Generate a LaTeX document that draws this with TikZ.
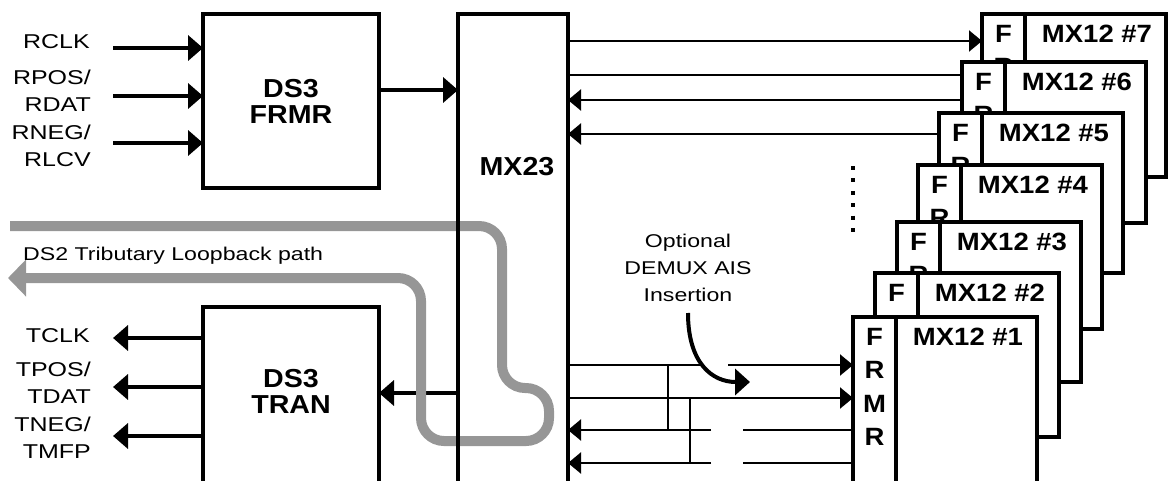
\documentclass[tikz,border=0pt]{standalone}
\usepackage{fontspec}
\setmainfont[FakeStretch=1.25]{Liberation Sans}
\newfontfamily\heavyfont[FakeStretch=1.1]{Liberation Sans Bold}
\usetikzlibrary{arrows.meta,backgrounds}
\definecolor{loopgray}{RGB}{150,150,150}

\begin{document}
\begin{tikzpicture}[x=1pt, y=-1pt,
  blk/.style={draw, line width=4pt, fill=white, anchor=north west,
    inner sep=0pt, outer sep=0pt},
  blklbl/.style={font=\fontsize{26}{26}\selectfont\heavyfont, align=center},
  mxlbl/.style={font=\fontsize{25}{33.5}\selectfont\heavyfont, align=center,
    anchor=north, inner sep=0pt},
  pin/.style={font=\fontsize{20}{27}\selectfont, align=right, anchor=east,
    inner sep=0pt},
  note/.style={font=\fontsize{18.5}{27}\selectfont, align=center, inner sep=0pt},
  bus/.style={line width=4.5pt, -{Triangle[length=15pt,width=25pt]}},
  sig/.style={line width=2.2pt},
  sigin/.style={sig, -{Triangle[length=13pt,width=21pt]}},
  loopback/.style={line width=10pt, loopgray, rounded corners=23pt,
    -{Triangle[length=18pt,width=36pt]}}]

\useasboundingbox (0,0) rectangle (1171,480);
\clip (0,0) rectangle (1171,480);

\def\fw{43}
\def\mw{184}

\node[blk, minimum width=176pt, minimum height=174pt, blklbl] (frmr) at (203,14) {DS3\\FRMR};
\node[blk, minimum width=176pt, minimum height=190pt] (tran) at (203,307) {};
\node[blklbl] (tranlbl) at (291,391) {DS3\\TRAN};
\node[blk, fill=none, minimum width=110pt, minimum height=480pt] (mx23) at (458,14) {};
\node[blklbl] (mx23lbl) at (517,167) {MX23};

\node[pin] (rclk) at (90,42) {RCLK};
\node[pin] (rpos) at (91,90.5) {RPOS/\\RDAT};
\node[pin] (rneg) at (91,146) {RNEG/\\RLCV};
\node[pin] (tclk) at (90,336) {TCLK};
\node[pin] (tpos) at (91,382.5) {TPOS/\\TDAT};
\node[pin] (tneg) at (91,437.5) {TNEG/\\TMFP};

\foreach \y/\nm in {48/rin1, 96/rin2, 143/rin3}{
  \coordinate (\nm) at (113,\y);
  \draw[bus] (\nm) -- (frmr.west |- \nm);
}
\foreach \y/\nm in {338/tout1, 387/tout2, 436/tout3}{
  \coordinate (\nm) at (113,\y);
  \draw[bus] (tran.west |- \nm) -- (\nm);
}
\draw[bus] (frmr.east |- 0,90) -- (mx23.west |- 0,90);

\begin{pgfonlayer}{background}
\draw[bus] (mx23.west |- 0,393) -- (tran.east |- 0,393);
\coordinate (lbin) at (10,226);
\coordinate (lbout) at (8,278);
\draw[loopback] (lbin) -- (502,226) -- (502,388) -- (549,388) -- (549,441)
  -- (421,441) -- (421,278) -- (lbout);
\end{pgfonlayer}
\node[note, anchor=base west] (lblbl) at (23,260) {DS2 Tributary Loopback path};

\foreach \n/\xl/\yt/\h/\fc in {7/982/14/163/{F\\R}, 6/962/62/161/{F\\R},
    5/939/113/160/{F\\R}, 4/918/165/164/{F\\R}, 3/897/222/160/{F\\R},
    2/875/273/164/{F}, 1/853/317/175/{F\\R\\M\\R}}{
  \node[blk, minimum width=\mw pt, minimum height=\h pt] (mx\n) at (\xl,\yt) {};
  \draw[line width=4pt] ([xshift=\fw pt]mx\n.north west) -- ([xshift=\fw pt]mx\n.south west);
  \node[mxlbl] (fcol\n) at ([xshift=21.5pt, yshift=-11pt]mx\n.north west) {\fc};
  \node[mxlbl] (mxt\n) at ([xshift=115pt, yshift=-11pt]mx\n.north west) {MX12 \#\n};
}

\draw[sigin] (mx23.east |- 0,41) -- (mx7.west |- 0,41);
\draw[sig] (mx23.east |- 0,75) -- (mx6.west |- 0,75);
\draw[sigin] (mx6.west |- 0,100) -- (mx23.east |- 0,100);
\draw[sigin] (mx5.west |- 0,134) -- (mx23.east |- 0,134);

\draw[line width=4pt, dash pattern=on 4pt off 8.4pt] (853,166) -- (853,232);

\coordinate (gapa1) at (700,365);
\coordinate (gapa2) at (728,365);
\draw[sig] (mx23.east |- gapa1) -- (gapa1);
\draw[sigin] (gapa2) -- (mx1.west |- gapa2);
\draw[sigin] (mx23.east |- 0,398) -- (mx1.west |- 0,398);
\foreach \y/\nm in {430/c, 463/d}{
  \coordinate (gap\nm1) at (711,\y);
  \coordinate (gap\nm2) at (743,\y);
  \draw[sigin] (gap\nm1) -- (mx23.east |- gap\nm1);
  \draw[sig] (gap\nm2) -- (mx1.west |- gap\nm2);
}
\coordinate (tapc) at (668,365);
\coordinate (tapd) at (690,398);
\draw[sig] (tapc) -- (tapc |- gapc1);
\draw[sig] (tapd) -- (tapd |- gapd1);

\node[note] (aisnote) at (688,268) {Optional\\DEMUX AIS\\Insertion};
\coordinate (aistip) at (750,382);
\draw[line width=4pt, -{Triangle[length=15pt,width=26pt]}]
  ([yshift=-11pt]aisnote.south) .. controls +(0,50) and +(-38,0) .. (aistip);

\end{tikzpicture}
\end{document}
